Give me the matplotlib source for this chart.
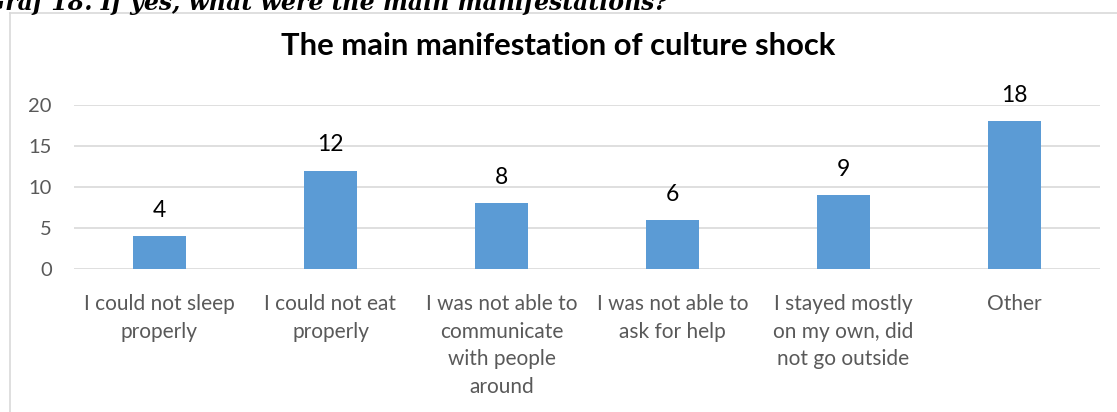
import numpy as np
import matplotlib
matplotlib.use("Agg")
import matplotlib.pyplot as plt
from matplotlib.lines import Line2D

categories = [
    "I could not sleep\nproperly",
    "I could not eat\nproperly",
    "I was not able to\ncommunicate\nwith people\naround",
    "I was not able to\nask for help",
    "I stayed mostly\non my own, did\nnot go outside",
    "Other",
]
counts = [4, 12, 8, 6, 9, 18]
yticks = [0, 5, 10, 15, 20]

W, H = 1117, 412
fig = plt.figure(figsize=(W / 100, H / 100), dpi=100)
fig.patch.set_facecolor("white")

font = "Lato"
grey = "#595959"
grid = "#d9d9d9"

# heading of the document section, clipped by the top edge
fig.text(668 / W, 1 - 10 / H, "Graf 18. If yes, what were the main manifestations?",
         ha="right", va="baseline", fontsize=17, fontweight="bold",
         fontstyle="italic", family="DejaVu Serif", color="black")

# chart frame
fig.add_artist(Line2D([10 / W, 10 / W], [1 - 13 / H, 0], transform=fig.transFigure,
                      color=grid, lw=1.2))
fig.add_artist(Line2D([10 / W, 1], [1 - 13 / H, 1 - 13 / H], transform=fig.transFigure,
                      color=grid, lw=1.2))

ax = fig.add_axes([74 / W, 1 - 269 / H, (1100 - 74) / W, (269 - 105) / H])
x = np.arange(len(categories))
ax.bar(x, counts, width=0.31, color="#5b9bd5", zorder=3)
ax.set_xlim(-0.5, len(categories) - 0.5)
ax.set_ylim(0, 20)
ax.set_yticks(yticks)
ax.set_yticklabels([str(t) for t in yticks], family=font, fontsize=14.5, color=grey)
ax.tick_params(axis="y", length=0, pad=16)
ax.set_xticks([])
for s in ax.spines.values():
    s.set_visible(False)
for t in yticks:
    ax.axhline(t, color=grid, lw=1.2, zorder=1)

for xi, v in zip(x, counts):
    ax.annotate(str(v), (xi, v), xytext=(0, 18.5), textcoords="offset points",
                ha="center", va="center", family=font, fontsize=16.5, color="black")

for xi, lab in zip(x, categories):
    ax.annotate(lab, (xi, 0), xytext=(0, -18), textcoords="offset points",
                ha="center", va="top", family=font, fontsize=15, color=grey,
                linespacing=1.48)

fig.text(0.5, 1 - 55 / H, "The main manifestation of culture shock",
         ha="center", va="baseline", family=font, fontsize=22.3,
         fontweight="bold", color="black")

fig.savefig("out.png", dpi=100, facecolor="white")
